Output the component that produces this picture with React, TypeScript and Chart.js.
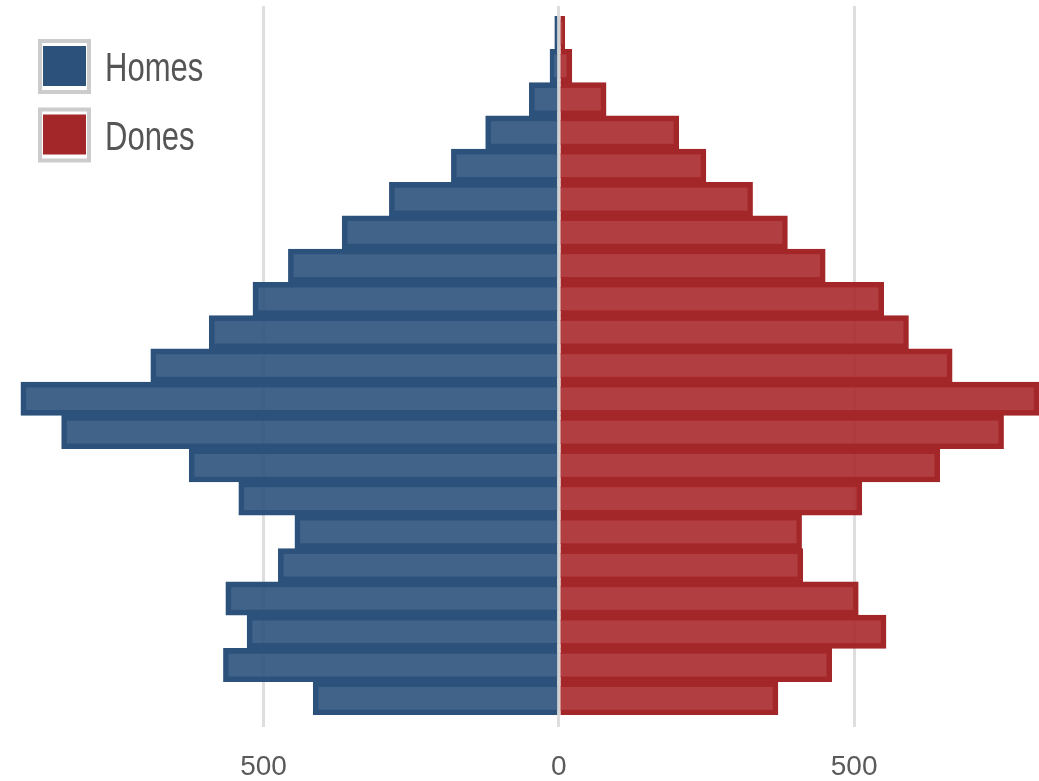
import React, { useEffect, useRef } from 'react';
import { Chart, registerables } from 'chart.js';

Chart.register(...registerables);

// Age groups, top (oldest) to bottom (youngest)
const ageGroups = ['100+', '95-99', '90-94', '85-89', '80-84', '75-79', '70-74', '65-69', '60-64', '55-59', '50-54', '45-49', '40-44', '35-39', '30-34', '25-29', '20-24', '15-19', '10-14', '5-9', '0-4'];
const homes = [7, 15, 50, 124, 182, 287, 367, 458, 518, 592, 691, 911, 842, 626, 542, 447, 475, 564, 528, 568, 416];
const dones = [10, 22, 80, 203, 249, 328, 387, 451, 550, 592, 666, 813, 753, 645, 513, 411, 413, 507, 554, 462, 371];
const seriesNames = ['Homes', 'Dones'];
const xTickValues = [-500, 0, 500];
const xMin = -926;
const xMax = 813;

const BLUE = 'rgb(44,82,124)';
const BLUE_FILL = 'rgba(44,82,124,0.9)';
const RED = 'rgb(163,38,40)';
const RED_FILL = 'rgba(168,42,44,0.9)';
const GRID = '#dedede';

const zeroLine = {
  id: 'zeroLine',
  afterDatasetsDraw(chart: any) {
    const { ctx, chartArea, scales } = chart;
    const x = scales.x.getPixelForValue(0);
    ctx.save();
    ctx.strokeStyle = 'rgba(205,205,205,0.8)';
    ctx.lineWidth = 2;
    ctx.beginPath();
    ctx.moveTo(x, chartArea.top);
    ctx.lineTo(x, chartArea.bottom);
    ctx.stroke();
    ctx.restore();
  },
};

// Legend drawn inside the chart area, top-left, with condensed text
const insideLegend = {
  id: 'insideLegend',
  afterDraw(chart: any) {
    const { ctx, chartArea } = chart;
    const x0 = chartArea.left + 26;
    const y0 = chartArea.top + 23;
    chart.data.datasets.forEach((ds: any, i: number) => {
      const y = y0 + i * 68.5;
      ctx.save();
      ctx.fillStyle = '#ffffff';
      ctx.fillRect(x0, y, 53, 55);
      ctx.strokeStyle = '#cccccc';
      ctx.lineWidth = 4;
      ctx.strokeRect(x0 + 2, y + 2, 49, 51);
      ctx.fillStyle = ds.borderColor;
      ctx.fillRect(x0 + 5, y + 7, 43, 40);
      ctx.translate(x0 + 67, y + 31);
      ctx.scale(0.775, 1);
      ctx.fillStyle = '#555555';
      ctx.font = "40px 'Liberation Sans', Arial, sans-serif";
      ctx.textBaseline = 'middle';
      ctx.textAlign = 'left';
      ctx.fillText(ds.label, 0, 0);
      ctx.restore();
    });
  },
};

export default function App() {
  const ref = useRef<HTMLCanvasElement | null>(null);

  useEffect(() => {
    document.body.style.margin = '0';
    if (!ref.current) return;
    const setTicks = (axis: any) => {
      axis.ticks = xTickValues.map((v) => ({ value: v }));
    };
    const chart = new Chart(ref.current, {
      type: 'bar',
      data: {
        labels: ageGroups,
        datasets: [
          {
            label: seriesNames[0],
            data: homes.map((v) => -v),
            backgroundColor: BLUE_FILL,
            borderColor: BLUE,
            borderWidth: 5,
            barPercentage: 1,
            categoryPercentage: 1,
          },
          {
            label: seriesNames[1],
            data: dones,
            backgroundColor: RED_FILL,
            borderColor: RED,
            borderWidth: 5,
            barPercentage: 1,
            categoryPercentage: 1,
          },
        ],
      },
      options: {
        indexAxis: 'y',
        animation: false,
        responsive: false,
        devicePixelRatio: 1,
        layout: { padding: { top: 6, left: 12, right: 0, bottom: 0 } },
        scales: {
          y: {
            display: false,
            stacked: true,
          },
          x: {
            type: 'linear',
            stacked: true,
            min: xMin,
            max: xMax,
            afterBuildTicks: setTicks,
            border: { display: false },
            grid: { color: GRID, lineWidth: 3, tickLength: 12 },
            ticks: {
              padding: 26,
              color: '#5a5a5a',
              font: { family: "'Liberation Sans', Arial, sans-serif", size: 28, lineHeight: 1 },
              callback: (v: any) => String(Math.abs(Number(v))),
            },
          },
          x2: {
            type: 'linear',
            position: 'top',
            min: xMin,
            max: xMax,
            afterBuildTicks: setTicks,
            border: { display: false },
            grid: { color: GRID, lineWidth: 3, tickLength: 10, drawOnChartArea: false },
            ticks: { display: false },
          },
        },
        plugins: {
          tooltip: { enabled: false },
          legend: { display: false },
        },
      },
      plugins: [zeroLine, insideLegend],
    });
    return () => chart.destroy();
  }, []);

  return (
    <div style={{ width: 1039, height: 781, overflow: 'hidden', background: '#fff' }}>
      <canvas ref={ref} width={1039} height={807} style={{ display: 'block' }} />
    </div>
  );
}
